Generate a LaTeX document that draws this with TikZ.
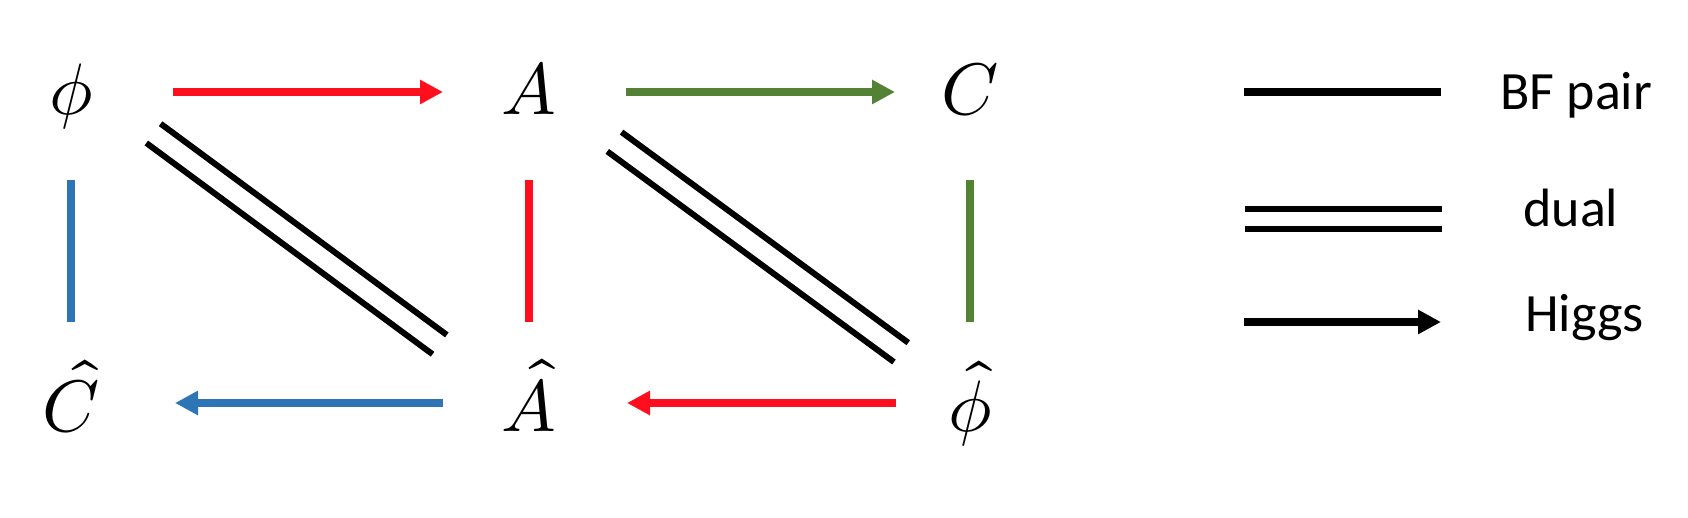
\documentclass[tikz,border=0pt]{standalone}
\usepackage{fontspec}
\usepackage{unicode-math}
\setmainfont{Carlito}
\setmathfont{Latin Modern Math}
\usetikzlibrary{arrows.meta}
\definecolor{pairred}{RGB}{255,14,30}
\definecolor{pairblue}{RGB}{46,117,182}
\definecolor{pairgreen}{RGB}{84,130,53}

\begin{document}
\begin{tikzpicture}[x=0.2mm,y=-0.2mm,
  field/.style={font=\fontsize{41.5pt}{48pt}\selectfont,inner sep=0pt,anchor=base,text depth=2.8mm},
  toprow/.style={field,text height=12mm},
  botrow/.style={field,text height=14.4mm},
  link/.style={line width=1.6mm},
  higgs/.style={link,-{Triangle[length=4.6mm,width=4.6mm]}},
  pairline/.style={link,shorten <=17.6mm,shorten >=16.2mm},
  dualside/.style={draw,line width=1.2mm,transform canvas={shift={#1}}},
  dualline/.style={draw=none,
    postaction={dualside={(1.43mm,1.93mm)}},
    postaction={dualside={(-1.43mm,-1.93mm)}}},
  legendtext/.style={font=\fontsize{30.7pt}{36pt}\selectfont,anchor=base west,inner sep=0pt}]
\useasboundingbox (0,0) rectangle (1688,518);

% fields
\node[toprow] (phi) at (71,115) {$\phi$};
\node[toprow] (A) at (529,115) {$A$};
\node[toprow] (C) at (970,115) {$C$};
\node[botrow] (Chat) at (71,432) {$\hat{C}$};
\node[botrow] (Ahat) at (529,432) {$\hat{A}$};
\node[botrow] (phihat) at (970,432) {$\widehat{\phi}$};

% Higgs arrows
\draw[higgs,pairred,shorten <=20.4mm,shorten >=17.2mm] (phi.center) -- (A.center);
\draw[higgs,pairgreen,shorten <=19.4mm,shorten >=15mm] (A.center) -- (C.center);
\draw[higgs,pairblue,shorten <=17.2mm,shorten >=20.8mm] (Ahat.center) -- (Chat.center);
\draw[higgs,pairred,shorten <=14.8mm,shorten >=19.6mm] (phihat.center) -- (Ahat.center);

% BF pairs
\draw[pairline,pairblue] (phi.center) -- (Chat.center);
\draw[pairline,pairred] (A.center) -- (Ahat.center);
\draw[pairline,pairgreen] (C.center) -- (phihat.center);

% dualities
\path[dualline,shorten <=20.5mm,shorten >=22.2mm] ([yshift=3.9mm]phi.center) -- ([yshift=-1.5mm]Ahat.center);
\path[dualline,shorten <=21.2mm,shorten >=17.1mm] ([yshift=2.6mm]A.center) -- (phihat.center);

% legend
\coordinate (bfA) at (1244,92);
\coordinate (bfB) at (1441,92);
\draw[link] (bfA) -- (bfB);
\node[legendtext] (bf) at (1500,110) {BF pair};
\coordinate (duA) at (1245,219);
\coordinate (duB) at (1442,219);
\draw[line width=1.2mm,double,double distance=2.8mm] (duA) -- (duB);
\node[legendtext] (du) at (1523,227) {dual};
\coordinate (hiA) at (1244,322);
\coordinate (hiB) at (1441,322);
\draw[higgs] (hiA) -- (hiB);
\node[legendtext] (hi) at (1525,332) {Higgs};

\end{tikzpicture}
\end{document}
